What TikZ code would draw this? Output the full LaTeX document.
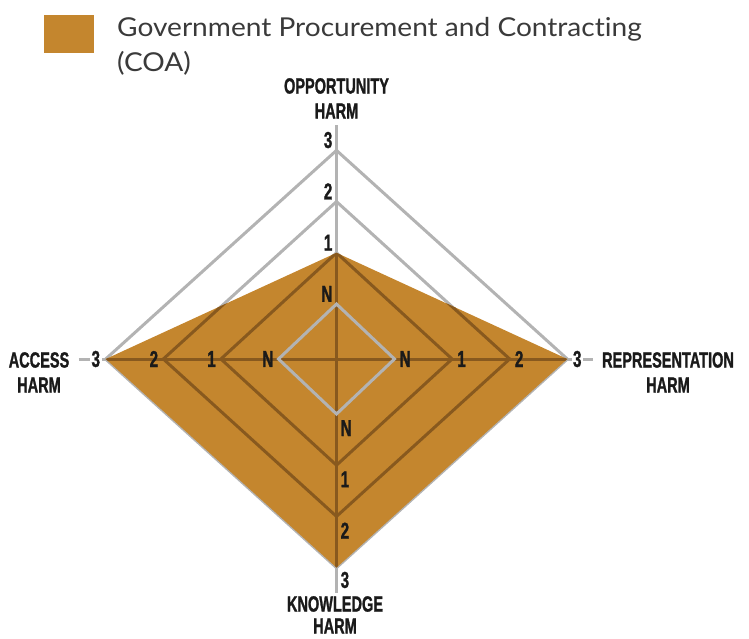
\documentclass[tikz,border=0pt]{standalone}
\usepackage{fontspec}
\setmainfont{Lato}[FakeStretch=1.08, Ligatures=NoCommon]
\newfontfamily\harmfont{Liberation Sans}[FakeStretch=0.66, FakeBold=1.2]
\usepackage{tikz}
\usetikzlibrary{calc}
\definecolor{coa}{HTML}{C4862E}
\definecolor{coaline}{HTML}{88591E}
\definecolor{gridgray}{HTML}{B3B3B3}
\definecolor{inkdark}{HTML}{1A1A1A}
\definecolor{legendtext}{HTML}{3A3A3A}

\begin{document}
\begin{tikzpicture}[x=1pt, y=-1pt,
  grid/.style={draw=gridgray, line width=3pt},
  coagrid/.style={draw=coaline, line width=3pt},
  tick/.style={inner sep=0pt, text=inkdark, font=\harmfont\bfseries\fontsize{23}{25}\selectfont},
  axislabel/.style={inner sep=0pt, align=center, text=inkdark, font=\harmfont\bfseries\fontsize{22}{25}\selectfont}]
\useasboundingbox (0, 0) rectangle (749, 638);
\coordinate (O) at (336.5, 359);
\foreach \k in {0,...,3} {
  \pgfmathsetmacro\hx{58+57.6*\k}
  \pgfmathsetmacro\vy{55+51.2*\k}
  \coordinate (t\k) at ($(O)+(0,-\vy)$);
  \coordinate (r\k) at ($(O)+(\hx,0)$);
  \coordinate (b\k) at ($(O)+(0,\vy)$);
  \coordinate (l\k) at ($(O)+(-\hx,0)$);
}
\coordinate (tE) at ($(t3)+(0,-25)$);
\coordinate (bE) at ($(b3)+(0,25)$);
\coordinate (rE) at ($(r3)+(26,0)$);
\coordinate (lE) at ($(l3)+(-27,0)$);
% legend
\fill [coa] (44, 15) rectangle (94, 53);
\node at (117, 17) [name=legend, anchor=north west, inner sep=0pt, align=left, text=legendtext, font=\fontsize{26}{35}\selectfont] {Government Procurement and Contracting\\(COA)};
% grid
\foreach \k in {1,2,3}
  \draw [grid] (t\k) -- (r\k) -- (b\k) -- (l\k) -- cycle;
\draw [grid] (tE) -- (bE);
\draw [grid] (lE) -- (rE);
% data
\fill [coa] (t1) -- (r3) -- (b3) -- (l3) -- cycle;
\begin{scope}
  \clip (t1) -- (r3) -- (b3) -- (l3) -- cycle;
  \foreach \k in {1,2}
    \draw [coagrid] (t\k) -- (r\k) -- (b\k) -- (l\k) -- cycle;
  \draw [coagrid] (tE) -- (bE);
  \draw [coagrid] (lE) -- (rE);
\end{scope}
\draw [grid] (t0) -- (r0) -- (b0) -- (l0) -- cycle;
% ticks
\foreach \k/\v in {0/N,1/1,2/2} {
  \node at ($(t\k)+(-4,-2)$) [name=tt\k, tick, anchor=south east] {\v};
  \node at ($(b\k)+(4,6)$) [name=bt\k, tick, anchor=north west] {\v};
  \node at ($(l\k)+(-5,0)$) [name=lt\k, tick, anchor=east] {\v};
  \node at ($(r\k)+(5,0)$) [name=rt\k, tick, anchor=west] {\v};
}
\node at ($(t3)+(-4,-2)$) [name=tt3, tick, anchor=south east] {3};
\node at ($(b3)+(4,4)$) [name=bt3, tick, anchor=north west] {3};
\node at ($(l3)+(-4,0)$) [name=lt3, tick, anchor=east, fill=white, inner xsep=1.5pt] {3};
\node at ($(r3)+(4,0)$) [name=rt3, tick, anchor=west, fill=white, inner xsep=1.5pt] {3};
% axis names
\node at (336.5, 78) [name=opportunity, axislabel, anchor=north] {OPPORTUNITY\\HARM};
\node at (668, 352) [name=representation, axislabel, anchor=north] {REPRESENTATION\\HARM};
\node at (335, 596) [name=knowledge, axislabel, anchor=north, font=\harmfont\bfseries\fontsize{22}{22}\selectfont] {KNOWLEDGE\\HARM};
\node at (39, 352) [name=access, axislabel, anchor=north] {ACCESS\\HARM};
\end{tikzpicture}
\end{document}
